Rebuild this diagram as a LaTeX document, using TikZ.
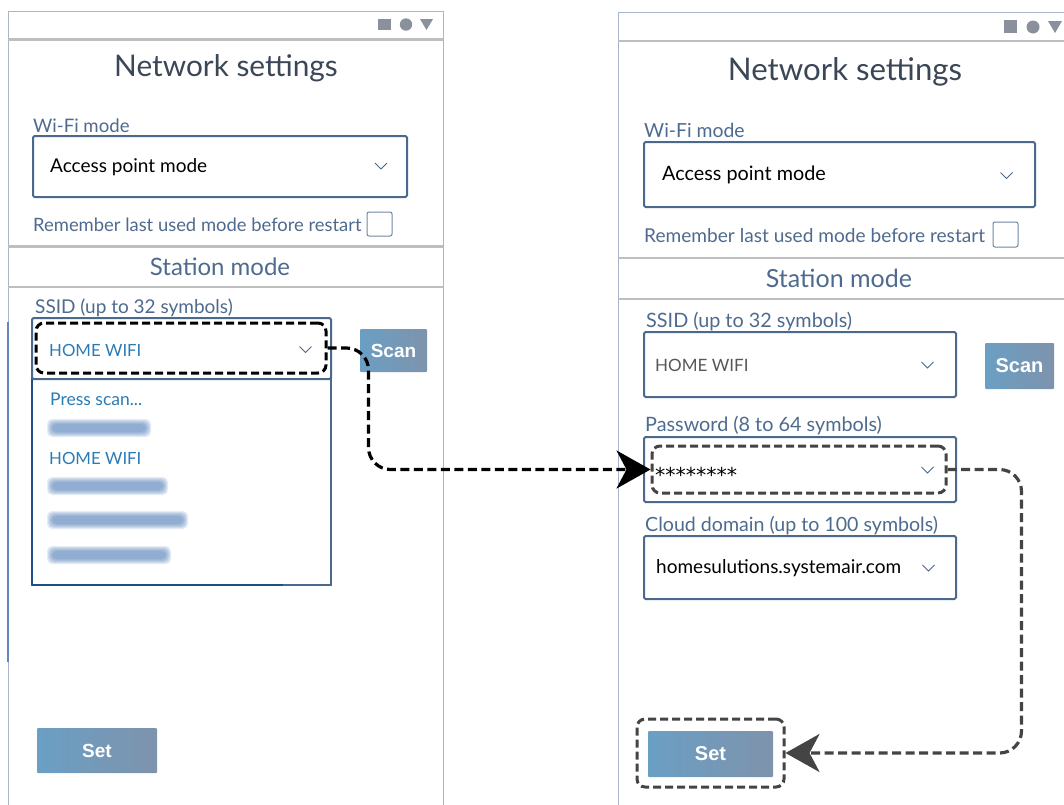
\documentclass[tikz,border=0pt]{standalone}
\usepackage{fontspec}
\setmainfont{Lato}
\newfontfamily\btnfont{Liberation Sans}
\newfontfamily\starfont{DejaVu Sans}
\usetikzlibrary{arrows.meta}
\definecolor{framec}{HTML}{A9B5C8}
\definecolor{sepc}{HTML}{BEBEBE}
\definecolor{labc}{HTML}{4E6B8F}
\definecolor{ttlc}{HTML}{3B4656}
\definecolor{fldc}{HTML}{4B688D}
\definecolor{lnkc}{HTML}{2B7BB5}
\definecolor{btnA}{HTML}{6A9FC4}
\definecolor{btnB}{HTML}{7E93AC}
\definecolor{iconc}{HTML}{8A919C}
\definecolor{darkc}{HTML}{444444}
\definecolor{deepc}{HTML}{1F4F85}
\definecolor{stripc}{HTML}{6585BE}
\definecolor{blurc}{HTML}{4A7AB8}
\tikzset{
  fs/.style={font=\fontsize{#1}{#1}\selectfont},
  fsb/.style={font=\btnfont\fontsize{#1}{#1}\selectfont\bfseries},
  panel/.style={draw=framec, line width=1pt},
  sepline/.style={draw=sepc, line width=2.5pt},
  field/.style={draw=fldc, line width=2pt, rounded corners=1.5pt, inner sep=0pt, fill=white},
  lbl/.style={text=labc, anchor=base west, inner sep=0pt},
  txt/.style={anchor=base west, inner sep=0pt},
  ttl/.style={text=ttlc, anchor=base, inner sep=0pt},
  btn/.style={left color=btnA, right color=btnB, rounded corners=1pt, text=white, inner sep=0pt},
  hlbox/.style={line width=3pt, dash pattern=on 8pt off 4pt, rounded corners=8pt, inner sep=0pt},
  conn/.style={line width=3.2pt, dash pattern=on 9pt off 4.5pt, rounded corners=22pt},
  chev/.style={draw=fldc, line width=1pt},
  cbox/.style={draw=fldc!80, line width=1pt, rounded corners=2pt, inner sep=0pt},
  icon/.style={fill=iconc, draw=none}
}
\newcommand\chevmark[2]{\draw[chev] (#1-6,#2-3) -- (#1,#2+3) -- (#1+6,#2-3);}
\newcommand\blurrow[3]{%
  \foreach \k in {0,1,2,3,4,5}{\fill[blurc, opacity=0.14, rounded corners=5pt]
    (#1-\k,#3-4-\k) rectangle (#2+\k,#3+4+\k);}}
\begin{document}
\begin{tikzpicture}[x=1pt,y=-1pt]
\useasboundingbox (0,0) rectangle (1064,804);
\clip (0,0) rectangle (1064,804);
\fill[white] (0,0) rectangle (1064,804);

% ---------------- LEFT PANEL ----------------
\draw[panel] (8,11) rectangle (443,812);
\draw[stripc, line width=2.5pt] (8,322) -- (8,662);
\draw[sepline] (8,39.5) -- (443,39.5);
\fill[icon] (378,19) rectangle (391,30);
\fill[icon] (406,24.5) circle (6.2);
\fill[icon] (420,19) -- (433,19) -- (426.5,30) -- cycle;

\node[ttl, fs=29.8] (titleL) at (226,76) {Network settings};
\node[lbl, fs=18.6] (wifilabL) at (33,132) {Wi-Fi mode};
\node[field, minimum width=374pt, minimum height=61pt] (wifiL) at (220,166.5) {};
\node[txt, fs=19] (wifitxtL) at (50,172) {Access point mode};
\chevmark{381}{166}
\node[lbl, fs=18.4] (remL) at (33,231) {Remember last used mode before restart};
\node[cbox, minimum width=25pt, minimum height=24pt] (cbL) at (379.5,224) {};
\draw[sepline] (8,246.5) -- (443,246.5);
\node[ttl, text=labc, fs=24] (stationL) at (220,275) {Station mode};
\draw[sepline] (8,287) -- (443,287);

\node[lbl, fs=19] (ssidlabL) at (35,313) {SSID (up to 32 symbols)};
\node[field, rounded corners=0pt, minimum width=299pt, minimum height=206pt] (listL) at (181.5,482) {};
\draw[deepc, line width=2.5pt] (32,379) -- (32,585);
\draw[deepc, line width=2.5pt] (32,379) -- (245,379);
\draw[deepc, line width=2.5pt] (32,585) -- (283,585);
\node[field, fill=none, minimum width=299pt, minimum height=61pt] (ssidL) at (181.5,348.5) {};
\node[txt, text=lnkc, fs=16.8] (ssidtxtL) at (49,356) {HOME WIFI};
\chevmark{305.5}{349.5}
\node[btn, fsb=19, minimum width=67pt, minimum height=43pt] (scanL) at (393.5,350.5) {Scan};

\node[txt, text=lnkc, fs=17.5] (press) at (50,405) {Press scan...};
\blurrow{52}{146}{428}
\node[txt, text=lnkc, fs=16.8] (homeitem) at (49,464) {HOME WIFI};
\blurrow{52}{163}{486}
\blurrow{52}{183}{520}
\blurrow{52}{166}{555}

\node[hlbox, draw=black, minimum width=290pt, minimum height=50pt] (hlssid) at (181,348) {};

\node[btn, fsb=19, minimum width=120pt, minimum height=45pt] (setL) at (97,750.5) {Set};

% ---------------- RIGHT PANEL ----------------
\draw[panel] (618,12) rectangle (1080,812);
\draw[sepline] (618,41) -- (1080,41);
\fill[icon] (1004,20) rectangle (1017,33);
\fill[icon] (1033,27) circle (6.5);
\fill[icon] (1048,21) -- (1062,21) -- (1055,33) -- cycle;

\node[ttl, fs=31.2] (titleR) at (845,80) {Network settings};
\node[lbl, fs=19.4] (wifilabR) at (644,137) {Wi-Fi mode};
\node[field, minimum width=391pt, minimum height=65pt] (wifiR) at (839.5,174.5) {};
\node[txt, fs=19.8] (wifitxtR) at (662,180) {Access point mode};
\chevmark{1006.5}{175.5}
\node[lbl, fs=19.1] (remR) at (644,242) {Remember last used mode before restart};
\node[cbox, minimum width=25pt, minimum height=25pt] (cbR) at (1005.5,234.5) {};
\draw[sepline] (618,258) -- (1080,258);
\node[ttl, text=labc, fs=25] (stationR) at (839,287) {Station mode};
\draw[sepline] (618,299) -- (1080,299);

\node[lbl, fs=19.8] (ssidlabR) at (646,327) {SSID (up to 32 symbols)};
\node[field, minimum width=312pt, minimum height=65pt] (ssidR) at (800,364.5) {};
\node[txt, text=darkc!90, fs=17] (ssidtxtR) at (655,371) {HOME WIFI};
\chevmark{927.5}{365}
\node[btn, fsb=20, minimum width=69pt, minimum height=46pt] (scanR) at (1019.5,366) {Scan};

\node[lbl, fs=19.8] (pwlab) at (645,431) {Password (8 to 64 symbols)};
\node[field, minimum width=312pt, minimum height=65pt] (pwR) at (800,469.5) {};
\node[txt, font=\starfont\fontsize{20.5}{20.5}\selectfont] (pwtxt) at (655,482) {********};
\chevmark{927.5}{470}

\node[lbl, fs=19.6] (cloudlab) at (645,531) {Cloud domain (up to 100 symbols)};
\node[field, minimum width=312pt, minimum height=63pt] (cloudR) at (800,567.5) {};
\node[txt, fs=19] (cloudtxt) at (656,573) {homesulutions.systemair.com};
\chevmark{928.5}{568}

\node[hlbox, draw=darkc, minimum width=294pt, minimum height=47pt] (hlpw) at (799,469.5) {};

\node[btn, fsb=20, minimum width=125pt, minimum height=46pt] (setR) at (710.5,754) {Set};
\node[hlbox, draw=darkc, minimum width=147pt, minimum height=68pt] (hlset) at (710.5,753) {};

% ---------------- CONNECTORS ----------------
\draw[conn, draw=black, -{Stealth[length=34pt,width=38pt,inset=10pt,fill=black]}]
  (hlssid.east) -- ++(41,0) |- (hlpw.west);
\draw[conn, draw=darkc, -{Stealth[length=34pt,width=38pt,inset=10pt,fill=darkc]}]
  (hlpw.east) -- ++(74,0) |- (hlset.east);
\end{tikzpicture}
\end{document}
